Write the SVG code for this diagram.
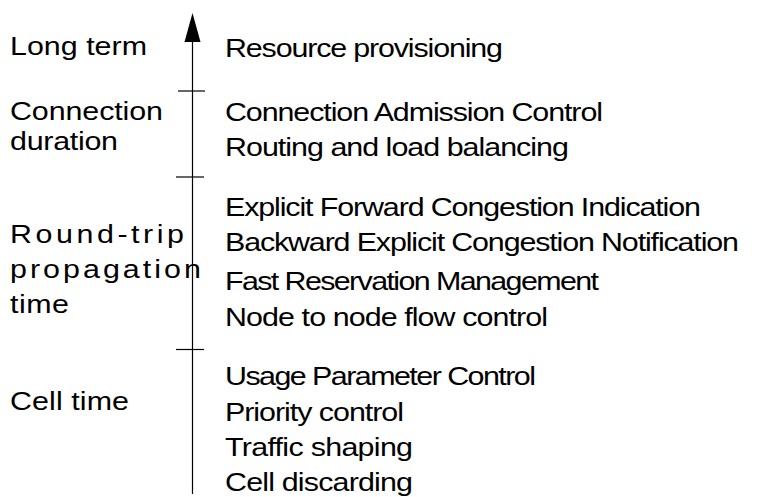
<svg xmlns="http://www.w3.org/2000/svg" width="772" height="497" viewBox="0 0 772 497">
<style>
text{font-family:"Liberation Sans",Arial,sans-serif;font-size:26px;fill:#000}
.ax{stroke:#000;stroke-width:1.2;fill:none}
</style>
<rect width="772" height="497" fill="#fff"/>
<g id="connectors">
<line class="ax" x1="192.5" y1="40" x2="192.5" y2="494"/>
<polygon points="192.5,13 184.5,42 200.5,42" fill="#000"/>
<line class="ax" x1="178" y1="91" x2="205" y2="91"/>
<line class="ax" x1="176" y1="177" x2="204" y2="177"/>
<line class="ax" x1="176" y1="349.5" x2="204" y2="349.5"/>
</g>
<g id="long-term" transform="scale(1.17 1)">
<text x="8.55" y="55" textLength="117.1" lengthAdjust="spacing">Long term</text>
<text x="192.3" y="57" textLength="237.6" lengthAdjust="spacing">Resource provisioning</text>
</g>
<g id="connection-duration" transform="scale(1.17 1)">
<text x="8.55" y="120" textLength="130.8" lengthAdjust="spacing">Connection</text>
<text x="8.55" y="150" textLength="92.3" lengthAdjust="spacing">duration</text>
<text x="192.3" y="121.5" textLength="323.1" lengthAdjust="spacing">Connection Admission Control</text>
<text x="192.3" y="156.5" textLength="294" lengthAdjust="spacing">Routing and load balancing</text>
</g>
<g id="round-trip" transform="scale(1.17 1)">
<text x="8.55" y="243" font-size="28" textLength="148.7" lengthAdjust="spacing">Round-trip</text>
<text x="8.55" y="278" font-size="28" textLength="163.2" lengthAdjust="spacing">propagation</text>
<text x="8.55" y="313" textLength="50.4" lengthAdjust="spacing">time</text>
<text x="192.3" y="216.5" textLength="406.8" lengthAdjust="spacing">Explicit Forward Congestion Indication</text>
<text x="192.3" y="251.5" textLength="439.3" lengthAdjust="spacing">Backward Explicit Congestion Notification</text>
<text x="192.3" y="290" textLength="319.7" lengthAdjust="spacing">Fast Reservation Management</text>
<text x="192.3" y="326.5" textLength="276.1" lengthAdjust="spacing">Node to node flow control</text>
</g>
<g id="cell-time" transform="scale(1.17 1)">
<text x="8.55" y="410" textLength="101.7" lengthAdjust="spacing">Cell time</text>
<text x="192.3" y="385" textLength="265.8" lengthAdjust="spacing">Usage Parameter Control</text>
<text x="192.3" y="421.5" textLength="153" lengthAdjust="spacing">Priority control</text>
<text x="192.3" y="456.5" textLength="160.7" lengthAdjust="spacing">Traffic shaping</text>
<text x="192.3" y="491.5" textLength="160.7" lengthAdjust="spacing">Cell discarding</text>
</g>
</svg>
